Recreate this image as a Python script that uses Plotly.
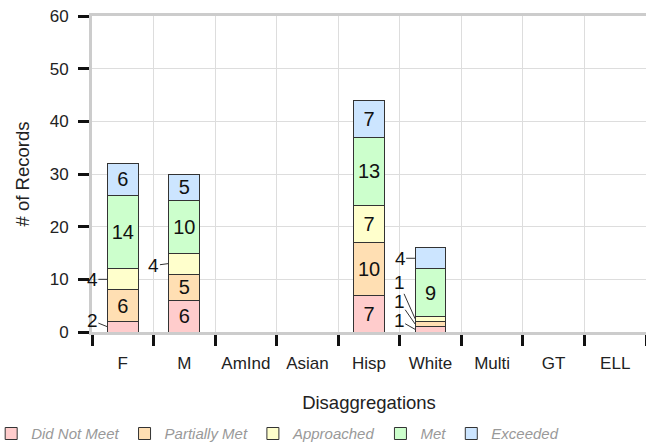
import plotly.graph_objects as go

categories = ["F", "M", "AmInd", "Asian", "Hisp", "White", "Multi", "GT", "ELL"]
series_names = ["Did Not Meet", "Partially Met", "Approached", "Met", "Exceeded"]
did_not_meet = [2, 6, 0, 0, 7, 1, 0, 0, 0]
partially_met = [6, 5, 0, 0, 10, 1, 0, 0, 0]
approached = [4, 4, 0, 0, 7, 1, 0, 0, 0]
met = [14, 10, 0, 0, 13, 9, 0, 0, 0]
exceeded = [6, 5, 0, 0, 7, 4, 0, 0, 0]
y_ticks = [0, 10, 20, 30, 40, 50, 60]

series_values = [did_not_meet, partially_met, approached, met, exceeded]
colors = ["#ffcccc", "#ffdfb3", "#ffffcc", "#ccffcc", "#cce5ff"]
FONT = "Liberation Sans, Arial, sans-serif"

fig = go.Figure()
for name, vals, col in zip(series_names, series_values, colors):
    fig.add_trace(go.Bar(
        x=categories,
        y=[v if v else None for v in vals],
        name=name,
        marker=dict(color=col, line=dict(color="#333333", width=1)),
        text=[str(v) if v > 4 else "" for v in vals],
        textposition="inside",
        insidetextanchor="middle",
        textangle=0,
        textfont=dict(size=20, color="#111111", family=FONT),
        constraintext="none",
        hoverinfo="skip",
    ))

# outside labels for small segments (pixel offsets of label from the bar's left edge)
label_offsets = {
    (0, 0): (-15, -6),
    (0, 2): (-15, 0),
    (1, 2): (-15, 2),
    (5, 4): (-15, 0),
    (5, 2): (-16, -36),
    (5, 1): (-16, -23),
    (5, 0): (-16, -9),
}
annotations = []
for ci in range(len(categories)):
    base = 0
    for si, vals in enumerate(series_values):
        v = vals[ci]
        if 0 < v <= 4:
            ax, ay = label_offsets.get((ci, si), (-15, 0))
            annotations.append(dict(
                x=ci - 0.25, y=base + v / 2, xref="x", yref="y",
                text=str(v), showarrow=True, arrowhead=0, arrowwidth=1,
                arrowcolor="#333333", ax=ax, ay=ay,
                font=dict(size=19, color="#111111", family=FONT),
                borderpad=0,
            ))
        base += v

fig.update_layout(
    width=646, height=444,
    margin=dict(l=92, r=0, t=16, b=112, autoexpand=False),
    paper_bgcolor="white", plot_bgcolor="white",
    barmode="stack", bargap=0.5,
    font=dict(family=FONT, color="#222222", size=17),
    annotations=annotations,
    showlegend=True,
    legend=dict(
        orientation="h", xref="paper", x=-0.182, xanchor="left",
        yref="paper", y=-0.322, yanchor="middle",
        font=dict(size=15, color="#999999", family=FONT, style="italic"),
        itemwidth=30, traceorder="normal", tracegroupgap=0,
    ),
    xaxis=dict(
        type="category", tickson="boundaries", automargin=True,
        ticks="outside", ticklen=11, tickwidth=3, tickcolor="#111111",
        showline=True, linecolor="#cccccc", linewidth=3, mirror=True,
        showgrid=True, gridcolor="#dddddd", gridwidth=1,
        tickfont=dict(size=17, color="#222222"), ticklabelstandoff=14,
        title=dict(text="Disaggregations", font=dict(size=18.5, color="#222222"), standoff=24),
        range=[-0.5, len(categories) - 0.5],
    ),
    yaxis=dict(
        range=[0, 60], tickvals=y_ticks, automargin=True,
        ticks="outside", ticklen=11, tickwidth=3, tickcolor="#111111",
        showline=True, linecolor="#cccccc", linewidth=3,
        showgrid=True, gridcolor="#dddddd", gridwidth=1, zeroline=False,
        tickfont=dict(size=17, color="#222222"), ticklabelstandoff=6,
        title=dict(text="# of Records", font=dict(size=18.5, color="#222222"), standoff=16),
    ),
)

fig.write_html("out.html", config={"displayModeBar": False},
               post_script="document.body.style.margin='0';document.body.style.overflow='hidden';")
